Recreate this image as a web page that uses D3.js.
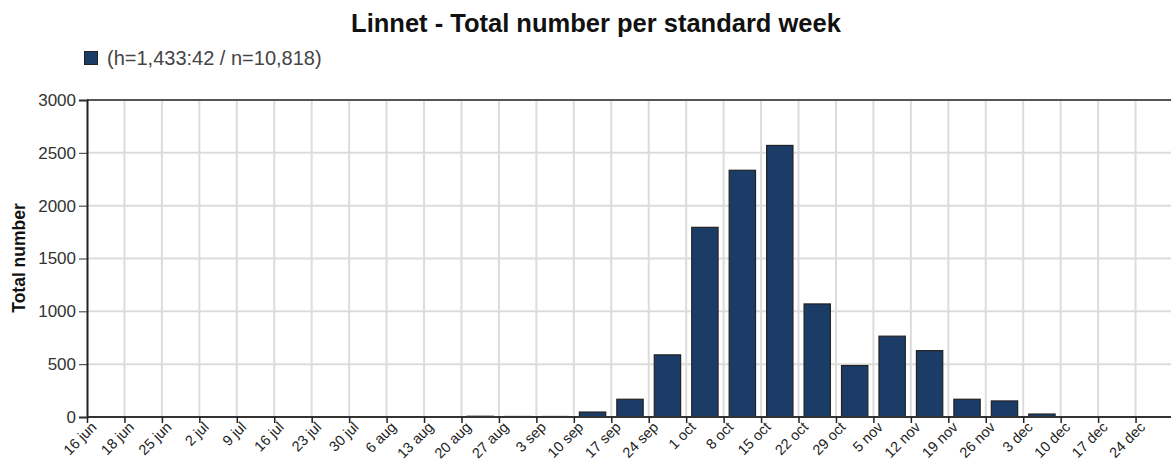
<!DOCTYPE html>
<html>
<head>
<meta charset="utf-8">
<script src="https://cdnjs.cloudflare.com/ajax/libs/d3/7.8.5/d3.min.js"></script>
<style>
  body { margin: 0; background: #fff; }
  text { font-family: "Liberation Sans", Arial, sans-serif; }
</style>
</head>
<body>
<div id="chart"></div>
<script>
var svgWidth = 1171;
var svgHeight = 468;

// week labels (tick at left edge of each week)
var weeks = ["16 jun", "18 jun", "25 jun", "2 jul", "9 jul", "16 jul", "23 jul", "30 jul",
  "6 aug", "13 aug", "20 aug", "27 aug", "3 sep", "10 sep", "17 sep", "24 sep",
  "1 oct", "8 oct", "15 oct", "22 oct", "29 oct", "5 nov", "12 nov", "19 nov",
  "26 nov", "3 dec", "10 dec", "17 dec", "24 dec"];

var counts = [0, 0, 0, 0, 0, 0, 0, 0,
  0, 0, 7, 5, 5, 47, 168, 588,
  1795, 2335, 2570, 1070, 487, 765, 628, 168,
  152, 28, 0, 0, 0];

var yTicks = [0, 500, 1000, 1500, 2000, 2500, 3000];

var title = "Linnet - Total number per standard week";
var legendLabel = "(h=1,433:42 / n=10,818)";
var yLabel = "Total number";

var margin = { top: 100, left: 87, bottom: 51 };
var width = 1086;
var height = svgHeight - margin.top - margin.bottom;

var barColor = "#1c3c68";

var svg = d3.select("#chart")
  .append("svg")
  .attr("width", svgWidth)
  .attr("height", svgHeight);

// title
svg.append("text")
  .attr("x", 596)
  .attr("y", 32)
  .attr("text-anchor", "middle")
  .style("font-size", "25.5px")
  .style("font-weight", "bold")
  .attr("fill", "#111")
  .text(title);

// legend
svg.append("rect")
  .attr("x", 84.5)
  .attr("y", 51.5)
  .attr("width", 13)
  .attr("height", 13)
  .attr("fill", barColor)
  .attr("stroke", "#222");

svg.append("text")
  .attr("x", 107)
  .attr("y", 65)
  .style("font-size", "20px")
  .attr("fill", "#444")
  .text(legendLabel);

var chartGroup = svg.append("g")
  .attr("transform", `translate(${margin.left}, ${margin.top})`);

var xScale = d3.scaleBand()
  .domain(weeks)
  .range([0, width])
  .paddingInner(0.27)
  .paddingOuter(0.135);

var yScale = d3.scaleLinear()
  .domain([0, 3000])
  .range([height, 0]);

var step = xScale.step();

// tick positions at week starts
var xTickScale = d3.scalePoint()
  .domain(weeks)
  .range([0, step * (weeks.length - 1)]);

// horizontal grid
chartGroup.append("g")
  .selectAll("line")
  .data(yTicks.slice(1, -1))
  .enter()
  .append("line")
  .attr("x1", 0)
  .attr("x2", svgWidth)
  .attr("y1", d => yScale(d))
  .attr("y2", d => yScale(d))
  .attr("stroke", "#dcdcdc")
  .attr("stroke-width", 2);

// vertical grid
chartGroup.append("g")
  .selectAll("line")
  .data(weeks.slice(1))
  .enter()
  .append("line")
  .attr("x1", d => xTickScale(d))
  .attr("x2", d => xTickScale(d))
  .attr("y1", 0)
  .attr("y2", height)
  .attr("stroke", "#dcdcdc")
  .attr("stroke-width", 2);

// top border
chartGroup.append("line")
  .attr("x1", 0)
  .attr("x2", svgWidth)
  .attr("y1", 0)
  .attr("y2", 0)
  .attr("stroke", "#555")
  .attr("stroke-width", 2);

// bars
chartGroup.selectAll(".bar")
  .data(counts)
  .enter()
  .append("rect")
  .attr("class", "bar")
  .attr("x", (d, i) => xScale(weeks[i]) + 0.5)
  .attr("y", d => yScale(d))
  .attr("width", xScale.bandwidth() - 1)
  .attr("height", d => height - yScale(d))
  .attr("fill", barColor)
  .attr("stroke", "#222")
  .attr("stroke-width", 1.2)
  .style("display", d => d > 0 ? null : "none");

// y axis
var leftAxis = d3.axisLeft(yScale)
  .tickValues(yTicks)
  .tickSize(8)
  .tickPadding(3)
  .tickFormat(d3.format("d"));

var yAxis = chartGroup.append("g")
  .call(leftAxis);
yAxis.select(".domain").attr("stroke", "#222").attr("stroke-width", 2);
yAxis.selectAll(".tick line").attr("stroke", "#333");
yAxis.selectAll(".tick text")
  .style("font-size", "17px")
  .attr("fill", "#333");

// x axis
var bottomAxis = d3.axisBottom(xTickScale)
  .tickSize(6)
  .tickSizeOuter(0);

var xAxis = chartGroup.append("g")
  .attr("transform", `translate(0, ${height})`)
  .call(bottomAxis);
xAxis.select(".domain")
  .attr("d", `M0,0H${svgWidth}`)
  .attr("stroke", "#333")
  .attr("stroke-width", 2);
xAxis.selectAll(".tick line").attr("stroke", "#222").attr("stroke-width", 1.5);
xAxis.selectAll(".tick text")
  .style("font-size", "14.5px")
  .attr("fill", "#222")
  .attr("text-anchor", "end")
  .attr("x", 0)
  .attr("y", 0)
  .attr("dy", "0")
  .attr("transform", "translate(10, 11) rotate(-45)");

// y label
svg.append("text")
  .attr("transform", "rotate(-90)")
  .attr("x", -258)
  .attr("y", 25)
  .attr("text-anchor", "middle")
  .style("font-size", "17.5px")
  .style("font-weight", "bold")
  .attr("fill", "#111")
  .text(yLabel);
</script>
</body>
</html>
